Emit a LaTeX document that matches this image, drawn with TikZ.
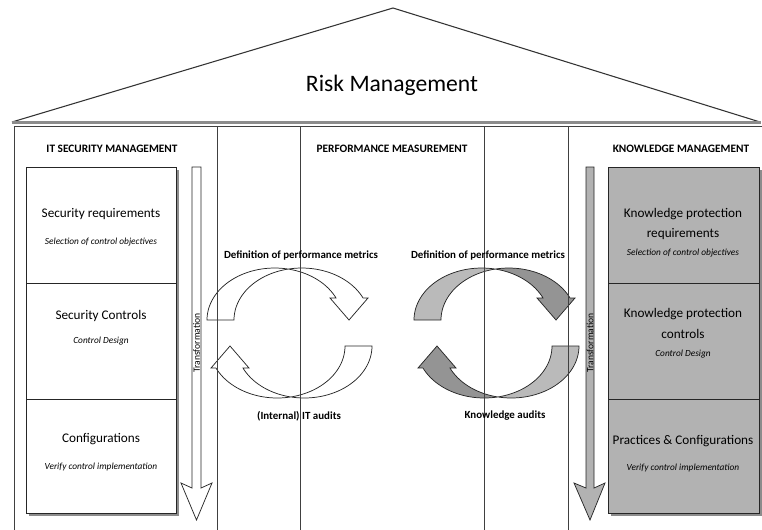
\documentclass[tikz,border=0pt]{standalone}
\usepackage{fontspec}
\setmainfont{Carlito}
\usetikzlibrary{calc}
\tikzset{
  colline/.style={draw=black!75, line width=0.55pt},
  boxline/.style={draw=black!85, line width=0.6pt},
  shadowbox/.style={fill=black!45},
  arrowline/.style={draw=black!85, line width=0.55pt},
  hdr/.style={font=\fontsize{8.5}{9}\selectfont\bfseries, inner sep=0pt},
  ttl/.style={font=\fontsize{9.9}{11}\selectfont, inner sep=0pt, align=center},
  sub/.style={font=\fontsize{7}{8}\selectfont\itshape, inner sep=0pt},
  lbl/.style={font=\fontsize{8.2}{9}\selectfont\bfseries, inner sep=0pt},
  trf/.style={font=\fontsize{7.2}{8}\selectfont, inner sep=0pt, rotate=90},
}
\newcommand\myCycArrowPath[1]{%
  \path[#1] plot[domain=180:335,samples=50] ({274.7+67.7*cos(\x)},{320+52*sin(\x)})
    -- (330,298) -- (349,320) -- (368,298)
    -- plot[domain=335:180,samples=50] ({301.7+67.7*cos(\x)},{320+52*sin(\x)})
    -- cycle;}
\newcommand\myCycArrow[2]{%
  \begin{scope}\clip (0,0) rectangle (288,529); \myCycArrowPath{fill=#1}\end{scope}
  \begin{scope}\clip (288,0) rectangle (800,529); \myCycArrowPath{fill=#2}\end{scope}
  \myCycArrowPath{arrowline}}
\begin{document}
\begin{tikzpicture}[x=0.75pt,y=-0.75pt]
\useasboundingbox (0,0) rectangle (762,529);
\fill[white] (0,0) rectangle (762,529);
% roof
\draw[black!80, line width=0.8pt, fill=white] (12,122) -- (393,8) -- (760,122);
\draw[black!45, line width=2pt] (12,122.5) -- (761,122.5);
\node[font=\fontsize{17.7}{20}\selectfont, inner sep=0pt] (risk) at (392,85) {Risk Management};
% cycle arrows (left, white)
\myCycArrow{white}{white}
\begin{scope}[rotate around={180:(289.5,333)}]
\myCycArrow{white}{white}
\end{scope}
% cycle arrows (right, gray)
\begin{scope}[shift={(207,0)}]
\myCycArrow{black!27}{black!42}
\begin{scope}[rotate around={180:(289.5,333)}]
\myCycArrow{black!27}{black!42}
\end{scope}
\end{scope}
% columns
\draw[colline] (14,126) rectangle (217,540);
\draw[colline] (217,126) rectangle (300,540);
\draw[colline] (300,126) rectangle (484,540);
\draw[colline] (484,126) rectangle (568,540);
\draw[colline] (568,126) rectangle (762,540);
% headers
\node[hdr] (h1) at (112,149) {IT SECURITY MANAGEMENT};
\node[hdr] (h2) at (392,149) {PERFORMANCE MEASUREMENT};
\node[hdr] (h3) at (681,149) {KNOWLEDGE MANAGEMENT};
% left boxes
\fill[shadowbox] (29,170) rectangle (179,516);
\draw[boxline, fill=white] (26,167) rectangle (176,283);
\draw[boxline, fill=white] (26,283) rectangle (176,399);
\draw[boxline, fill=white] (26,399) rectangle (176,513);
\node[ttl] (l1) at (101,214) {Security requirements};
\node[sub] (l1s) at (101,242) {Selection of control objectives};
\node[ttl] (l2) at (101,316) {Security Controls};
\node[sub] (l2s) at (101,341) {Control Design};
\node[ttl] (l3) at (101,439) {Configurations};
\node[sub] (l3s) at (101,467) {Verify control implementation};
% right boxes
\fill[shadowbox] (611,170) rectangle (762,516);
\draw[boxline, fill=black!30] (608,167) rectangle (759,283);
\draw[boxline, fill=black!30] (608,283) rectangle (759,399);
\draw[boxline, fill=black!30] (608,399) rectangle (759,513);
\node[ttl] (r1) at (683,214) {Knowledge protection};
\node[ttl] (r1b) at (683,234) {requirements};
\node[sub] (r1s) at (683,253) {Selection of control objectives};
\node[ttl] (r2) at (683,314) {Knowledge protection};
\node[ttl] (r2b) at (683,334) {controls};
\node[sub] (r2s) at (683,354) {Control Design};
\node[ttl] (r3) at (683,441) {Practices \& Configurations};
\node[sub] (r3s) at (683,468) {Verify control implementation};
% transformation arrows
\draw[arrowline, fill=white] (192,167) -- (201,167) -- (201,488) -- (212,483) -- (196.5,520) -- (181,483) -- (192,488) -- cycle;
\draw[arrowline, fill=black!30] (586,167) -- (594,167) -- (594,488) -- (605,483) -- (590,520) -- (574,483) -- (586,488) -- cycle;
\node[trf] (t1) at (196.5,343) {Transformation};
\node[trf] (t2) at (590,343) {Transformation};
% cycle labels
\node[lbl] (d1) at (301,256) {Definition of performance metrics};
\node[lbl] (d2) at (488,256) {Definition of performance metrics};
\node[lbl] (a1) at (299,416) {(Internal) IT audits};
\node[lbl] (a2) at (505,416) {Knowledge audits};
\end{tikzpicture}
\end{document}
